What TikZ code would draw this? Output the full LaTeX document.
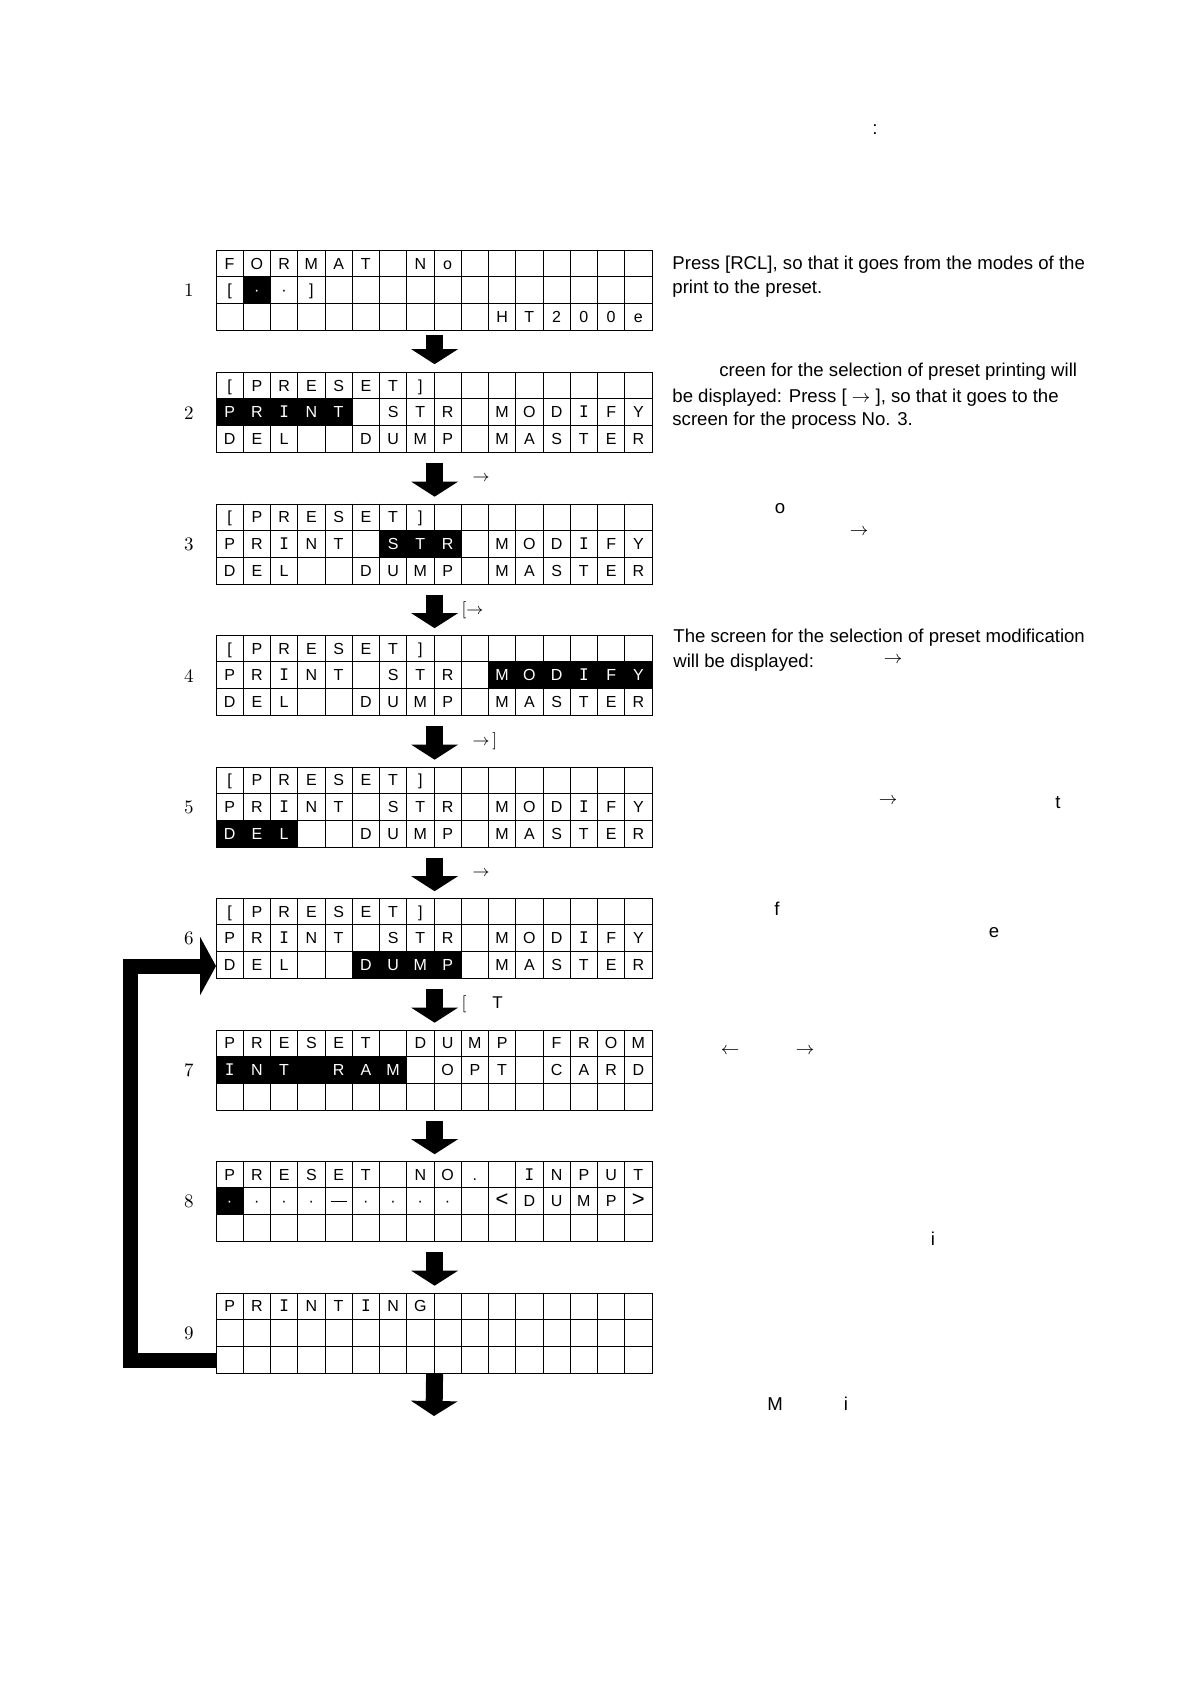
\documentclass[tikz,border=0pt]{standalone}
\usepackage{fontspec}
\newfontfamily\notefont{Liberation Sans}
\newfontfamily\lcdfont{DejaVu Sans Mono}
\usepackage{tikz}
\usetikzlibrary{arrows.meta,positioning,calc}

\newcommand{\lcdinv}[1]{\textcolor{white}{#1}}
\newcommand{\lcdI}{{\lcdfont I}}
\newcommand{\lcdbig}[1]{{\fontsize{11}{11}\selectfont #1}}
\newcommand{\lcddash}{\rule[2.5pt]{8pt}{0.7pt}}
\newcommand{\lcdgrid}[1]{%
  \foreach \k in {1,...,15}
    \draw[cellline] ($(#1.north west)+(\k*27.25,0)$) -- ($(#1.south west)+(\k*27.25,0)$);
  \foreach \r in {1,2}
    \draw[cellline] ($(#1.north west)+(0,\r*26.667)$) -- ($(#1.north east)+(0,\r*26.667)$);}
\newcommand{\lcdmark}[4]{%
  \fill ($(#1.north west)+({(#3-1)*27.25},{(#2-1)*26.667})$) rectangle ($(#1.north west)+({#4*27.25},{#2*26.667})$);}
\newcommand{\lcdrow}[3]{%
  \foreach \c [count=\i] in {#3}
    \node[cellchar] (#1r#2c\i) at ($(#1.north west)+(\i*27.25-13.625,#2*26.667-13.333)$) {\c};}

\begin{document}
\begin{tikzpicture}[x=0.5pt,y=-0.5pt,node distance=25.15pt,
  screen/.style={draw,line width=0.6pt,minimum width=218pt,minimum height=40pt,inner sep=0pt},
  cellline/.style={line width=0.5pt},
  cellchar/.style={font=\notefont\fontsize{8}{9.6}\selectfont,inner sep=0pt,text height=5.75pt,text depth=0pt},
  stepnum/.style={font=\fontsize{9.5}{11}\selectfont,inner sep=0pt},
  note/.style={font=\notefont\fontsize{9.3}{12}\selectfont,anchor=base west,inner sep=0pt},
  stray/.style={font=\notefont\fontsize{9.3}{12}\selectfont,anchor=base,inner sep=0pt},
  keylbl/.style={font=\fontsize{8.5}{10}\selectfont,anchor=west,inner sep=0pt,outer sep=0pt},
  flowarrow/.style={line width=8.5pt,-{Triangle[width=23pt,length=7.5pt]},shorten <=5pt,shorten >=3.5pt},
  looparrow/.style={line width=7.5pt,line join=miter,-{Triangle[width=29pt,length=8pt]}}]
\useasboundingbox (0,0) rectangle (1190,1684);

\node[screen,anchor=north west] (scr1) at (216,250) {};
\node[screen,below=20.5pt of scr1] (scr2) {};
\node[screen,below=of scr2] (scr3) {};
\node[screen,below=of scr3] (scr4) {};
\node[screen,below=of scr4] (scr5) {};
\node[screen,below=of scr5] (scr6) {};
\node[screen,below=of scr6] (scr7) {};
\node[screen,below=of scr7] (scr8) {};
\node[screen,below=of scr8] (scr9) {};
\foreach \s in {1,...,9} {
  \lcdgrid{scr\s}
  \node[stepnum,left=11pt of scr\s] (num\s) {\s};
}

\lcdmark{scr1}{2}{2}{2}
\lcdrow{scr1}{1}{F,O,R,M,A,T,{},N,o}
\lcdrow{scr1}{2}{{[},\lcdinv{·},·,{]}}
\lcdrow{scr1}{3}{{},{},{},{},{},{},{},{},{},{},H,T,2,0,0,e}

\lcdmark{scr2}{2}{1}{5}
\lcdrow{scr2}{1}{{[},P,R,E,S,E,T,{]}}
\lcdrow{scr2}{2}{\lcdinv{P},\lcdinv{R},\lcdinv{\lcdI},\lcdinv{N},\lcdinv{T},{},S,T,R,{},M,O,D,\lcdI,F,Y}
\lcdrow{scr2}{3}{D,E,L,{},{},D,U,M,P,{},M,A,S,T,E,R}

\lcdmark{scr3}{2}{7}{9}
\lcdrow{scr3}{1}{{[},P,R,E,S,E,T,{]}}
\lcdrow{scr3}{2}{P,R,\lcdI,N,T,{},\lcdinv{S},\lcdinv{T},\lcdinv{R},{},M,O,D,\lcdI,F,Y}
\lcdrow{scr3}{3}{D,E,L,{},{},D,U,M,P,{},M,A,S,T,E,R}

\lcdmark{scr4}{2}{11}{16}
\lcdrow{scr4}{1}{{[},P,R,E,S,E,T,{]}}
\lcdrow{scr4}{2}{P,R,\lcdI,N,T,{},S,T,R,{},\lcdinv{M},\lcdinv{O},\lcdinv{D},\lcdinv{\lcdI},\lcdinv{F},\lcdinv{Y}}
\lcdrow{scr4}{3}{D,E,L,{},{},D,U,M,P,{},M,A,S,T,E,R}

\lcdmark{scr5}{3}{1}{3}
\lcdrow{scr5}{1}{{[},P,R,E,S,E,T,{]}}
\lcdrow{scr5}{2}{P,R,\lcdI,N,T,{},S,T,R,{},M,O,D,\lcdI,F,Y}
\lcdrow{scr5}{3}{\lcdinv{D},\lcdinv{E},\lcdinv{L},{},{},D,U,M,P,{},M,A,S,T,E,R}

\lcdmark{scr6}{3}{6}{9}
\lcdrow{scr6}{1}{{[},P,R,E,S,E,T,{]}}
\lcdrow{scr6}{2}{P,R,\lcdI,N,T,{},S,T,R,{},M,O,D,\lcdI,F,Y}
\lcdrow{scr6}{3}{D,E,L,{},{},\lcdinv{D},\lcdinv{U},\lcdinv{M},\lcdinv{P},{},M,A,S,T,E,R}

\lcdmark{scr7}{2}{1}{7}
\lcdrow{scr7}{1}{P,R,E,S,E,T,{},D,U,M,P,{},F,R,O,M}
\lcdrow{scr7}{2}{\lcdinv{\lcdI},\lcdinv{N},\lcdinv{T},{},\lcdinv{R},\lcdinv{A},\lcdinv{M},{},O,P,T,{},C,A,R,D}

\lcdmark{scr8}{2}{1}{1}
\lcdrow{scr8}{1}{P,R,E,S,E,T,{},N,O,.,{},\lcdI,N,P,U,T}
\lcdrow{scr8}{2}{\lcdinv{·},·,·,·,\lcddash,·,·,·,·,{},\lcdbig{<},D,U,M,P,\lcdbig{>}}

\lcdrow{scr9}{1}{P,R,\lcdI,N,T,\lcdI,N,G}

\draw[flowarrow,shorten <=2pt,shorten >=4pt] (scr1.south) -- (scr2.north);
\draw[flowarrow] (scr2.south) -- node[keylbl,xshift=19pt] (key3) {$\rightarrow$} (scr3.north);
\draw[flowarrow] (scr3.south) -- node[keylbl,xshift=13.5pt] (key4) {[$\rightarrow$} (scr4.north);
\draw[flowarrow] (scr4.south) -- node[keylbl,xshift=19pt] (key5) {$\rightarrow$\,]} (scr5.north);
\draw[flowarrow] (scr5.south) -- node[keylbl,xshift=19pt] (key6) {$\rightarrow$} (scr6.north);
\draw[flowarrow] (scr6.south) -- node[keylbl,xshift=13.5pt] (key7) {[\hspace{13pt}{\notefont T}} (scr7.north);
\draw[flowarrow] (scr7.south) -- (scr8.north);
\draw[flowarrow] (scr8.south) -- (scr9.north);
\coordinate (fin) at (434,1416);
\draw[flowarrow,shorten <=0pt,shorten >=0pt] (scr9.south) -- (fin);
\draw[looparrow] ([yshift=6.667pt]scr9.south west) -- ++(-86,0) |- ([yshift=6.667pt]scr6.south west);

\node[stray] (colon) at (875,135) {:};
\node[note] (note1a) at (672,270) {Press [RCL], so that it goes from the modes of the};
\node[note] (note1b) at (672,294) {print to the preset.};
\node[note] (note2a) at (719,377) {creen for the selection of preset printing will};
\node[note] (note2b) at (672,403) {be displayed: Press [ $\rightarrow$ ], so that it goes to the};
\node[note] (note2c) at (672,426) {screen for the process No. 3.};
\node[stray] (note3o) at (780,513) {o};
\node[stray,anchor=center] (note3r) at (859,532) {$\rightarrow$};
\node[note] (note4a) at (673,642) {The screen for the selection of preset modification};
\node[note] (note4b) at (673,667) {will be displayed:};
\node[stray,anchor=center] (note4r) at (893,660) {$\rightarrow$};
\node[stray,anchor=center] (note5r) at (888,801) {$\rightarrow$};
\node[stray] (note5t) at (1058,808) {t};
\node[stray] (note6f) at (777,915) {f};
\node[stray] (note6e) at (994,937) {e};
\node[stray,anchor=center] (note7l) at (730,1051) {$\leftarrow$};
\node[stray,anchor=center] (note7r) at (805,1051) {$\rightarrow$};
\node[stray] (note8i) at (933,1245) {i};
\node[stray] (note9m) at (775,1410) {M};
\node[stray] (note9i) at (846,1410) {i};
\end{tikzpicture}
\end{document}
